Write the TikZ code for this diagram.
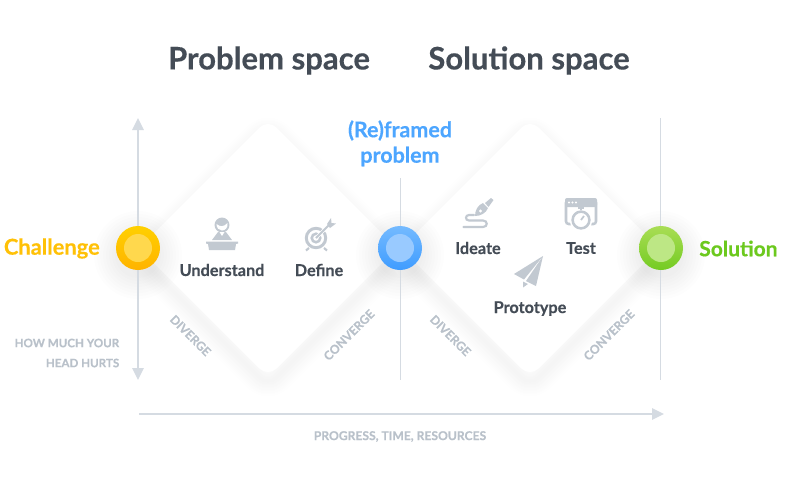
\documentclass[tikz,border=0pt]{standalone}
\usepackage{fontspec}
\setmainfont{Lato}[BoldFeatures={FakeBold=0.35}]
\usetikzlibrary{arrows.meta}
\definecolor{ink}{HTML}{444C56}
\definecolor{axis}{HTML}{D5DBE2}
\definecolor{faint}{HTML}{B9C1CA}
\definecolor{icon}{HTML}{C2C9D1}
\definecolor{yel}{HTML}{FFC107}
\definecolor{blu}{HTML}{4DA6FF}
\definecolor{grn}{HTML}{6CC91E}
\definecolor{yelA}{HTML}{FFD000}\definecolor{yelB}{HTML}{FFB300}\definecolor{yelI}{HTML}{FFD84D}
\definecolor{bluA}{HTML}{74BAFF}\definecolor{bluB}{HTML}{3F9CFF}\definecolor{bluI}{HTML}{99CAFF}
\definecolor{grnA}{HTML}{A9DD55}\definecolor{grnB}{HTML}{74CB22}\definecolor{grnI}{HTML}{BDE785}
\newcommand{\softdiamond}[2]{%
  \foreach \w [evaluate=\w as \k using (32-\w)*0.13] in {30,28,...,2}{
    \draw[draw=black!\k!white,line width=\w*0.75pt,line join=round,rounded corners=9pt]
      (#1-129,#2+9) -- (#1,#2-120) -- (#1+129,#2+9) -- (#1,#2+138) -- cycle;
  }
}
\newcommand{\whitediamond}[2]{%
  \fill[white,rounded corners=9pt] (#1-129,#2) -- (#1,#2-129) -- (#1+129,#2) -- (#1,#2+129) -- cycle;
}
\newcommand{\softcircle}[2]{%
  \foreach \r in {23,26,...,44}{
    \fill[black,opacity=0.007] (#1,#2+7) circle[radius=\r*0.75pt];
  }
}
\tikzset{
  x=0.75pt,y=-0.75pt,
  title/.style={font=\bfseries\fontsize{23.3}{28}\selectfont,text=ink,inner sep=0},
  stagelabel/.style={font=\bfseries\fontsize{12.2}{15}\selectfont,text=ink,inner sep=0},
  smalllabel/.style={font=\bfseries\fontsize{9.1}{11}\selectfont,text=faint,inner sep=0},
  sidelabel/.style={font=\bfseries\fontsize{8.7}{11}\selectfont,text=faint,inner sep=0},
  keylabel/.style={font=\bfseries\fontsize{16.1}{20}\selectfont,inner sep=0},
  axisline/.style={draw=axis,line width=1.5pt,-{Triangle[length=9pt,width=8.5pt]}},
  divider/.style={draw=axis,line width=0.75pt},
  outerdot/.style={circle,minimum size=33pt,inner sep=0},
  innerdot/.style={circle,minimum size=21pt,inner sep=0},
  iconfill/.style={fill=icon,draw=none},
  iconline/.style={draw=icon,line width=1.9pt,fill=none},
}
\begin{document}
\begin{tikzpicture}
\useasboundingbox (0,0) rectangle (800,497);
\fill[white] (0,0) rectangle (800,497);
\softdiamond{268}{248}
\softdiamond{530}{248}
\whitediamond{268}{248}
\whitediamond{530}{248}
\softcircle{138}{248}
\softcircle{400}{248}
\softcircle{661}{248}

% axes and dividers
\coordinate (vtop) at (138,118);
\coordinate (vbot) at (138,380);
\coordinate (vmid) at (138,248);
\coordinate (htail) at (139,414);
\coordinate (hhead) at (664,414);
\coordinate (d1t) at (400,178);
\coordinate (d1b) at (400,380);
\coordinate (d2t) at (660,118);
\coordinate (d2b) at (660,380);
\draw[axisline] (vmid) -- (vtop);
\draw[axisline] (vmid) -- (vbot);
\draw[axisline] (htail) -- (hhead);
\draw[divider] (d1t) -- (d1b);
\draw[divider] (d2t) -- (d2b);

% dots
\node[outerdot,top color=yelA,bottom color=yelB] (challengeDot) at (138,248) {};
\node[innerdot,fill=yelI] (challengeIn) at (138,248) {};
\node[outerdot,top color=bluA,bottom color=bluB] (problemDot) at (400,248) {};
\node[innerdot,fill=bluI] (problemIn) at (400,248) {};
\node[outerdot,top color=grnA,bottom color=grnB] (solutionDot) at (661,248) {};
\node[innerdot,fill=grnI] (solutionIn) at (661,248) {};

% titles and labels
\node[title] (ps) at (269,60.5) {Problem space};
\node[title] (ss) at (529,60.5) {Solution space};
\node[keylabel,text=blu] (rf1) at (400,130.5) {(Re)framed};
\node[keylabel,text=blu] (rf2) at (400,156.5) {problem};
\node[keylabel,text=yel,anchor=east,font=\bfseries\fontsize{16.4}{20}\selectfont] (ch) at (100,248.5) {Challenge};
\node[keylabel,text=grn,anchor=west,font=\bfseries\fontsize{15.8}{20}\selectfont] (so) at (699,248.5) {Solution};
\node[stagelabel] (un) at (222,270) {Understand};
\node[stagelabel] (de) at (319,270) {Define};
\node[stagelabel] (id) at (478,248) {Ideate};
\node[stagelabel] (te) at (581,248) {Test};
\node[stagelabel] (pr) at (530,308.5) {Prototype};
\node[sidelabel,anchor=east] (h1) at (119.5,343) {HOW MUCH YOUR};
\node[sidelabel,anchor=east] (h2) at (119.5,363) {HEAD HURTS};
\node[smalllabel] (pt) at (400,436.5) {PROGRESS, TIME, RESOURCES};
\node[smalllabel,rotate=-45] (dv1) at (190.5,335.5) {DIVERGE};
\node[smalllabel,rotate=45] (cv1) at (349,335) {CONVERGE};
\node[smalllabel,rotate=-45] (dv2) at (450.5,335.5) {DIVERGE};
\node[smalllabel,rotate=45] (cv2) at (609,335) {CONVERGE};

% Understand icon
\fill[iconfill] (222,225) circle[radius=5.6pt];
\fill[white] (216.5,224) .. controls (220,227) and (224,227) .. (227.5,223) .. controls (228,228) and (225,230.5) .. (222,230.5) .. controls (219,230.5) and (216.5,228) .. (216.5,224) -- cycle;
\fill[iconfill] (218,232) -- (226,232) -- (232,240) -- (212,240) -- cycle;
\fill[white] (219.5,232) -- (224.5,232) -- (222,236) -- cycle;
\fill[iconfill] (206,241.5) -- (238,241.5) -- (238,243.5) -- (236,244) -- (235,250) -- (209,250) -- (208,244) -- (206,243.5) -- cycle;

% Define icon
\draw[iconline,line width=2.2pt] (316,238) circle[radius=7.3pt];
\draw[iconline,line width=1.9pt] (316,238) circle[radius=3.2pt];
\draw[draw=white,line width=2.6pt] (316,238) -- (331,223);
\draw[icon,line width=1.4pt] (316,238) -- (330,224);
\fill[iconfill] (327,224) -- (331,218) -- (331.5,223) -- (336,223.5) -- (330,228) -- cycle;
\draw[icon,line width=1.6pt] (309,248) -- (306,250.5) (324,248) -- (327,250.5);

% Ideate icon
\fill[iconfill] (475,216) .. controls (475,210) and (478,205) .. (483,203) -- (488,208) .. controls (486,213) and (481,216) .. (475,216) -- cycle;
\fill[iconfill] (485,203) -- (491,198) -- (493.5,200) -- (488.5,207) -- cycle;
\fill[white] (480.5,211) circle[radius=1.2pt];
\draw[iconline,line cap=round,line width=1.6pt] (463.5,227) -- (483,227) .. controls (488,227) and (488,220.5) .. (483,220.5) -- (469,220.5) .. controls (465,220.5) and (465,215) .. (469,215) -- (474,215);

% Test icon
\fill[iconfill,rounded corners=1.5pt] (565,198) rectangle (597,207);
\draw[iconline,rounded corners=2pt] (571,224) -- (566,224) -- (566,200) -- (596,200) -- (596,224) -- (591,224);
\foreach \xx in {569,572.5,576}{\fill[white] (\xx,202.5) circle[radius=0.9pt];}
\fill[white] (581,220) circle[radius=8.5pt];
\draw[iconline] (581,220) circle[radius=6.3pt];
\draw[icon,line width=1.3pt] (581,220) -- (584,216);
\draw[icon,line width=1.6pt] (581,208) -- (581,210) (578,208) -- (584,208);

% Prototype (paper plane) icon
\fill[iconfill] (543,256) -- (514,274) -- (524,279.5) -- cycle;
\fill[iconfill] (543,256) -- (526,281) -- (536,286) -- cycle;
\fill[iconfill] (523,281.5) -- (528,284) -- (523,287.5) -- cycle;
\end{tikzpicture}
\end{document}
